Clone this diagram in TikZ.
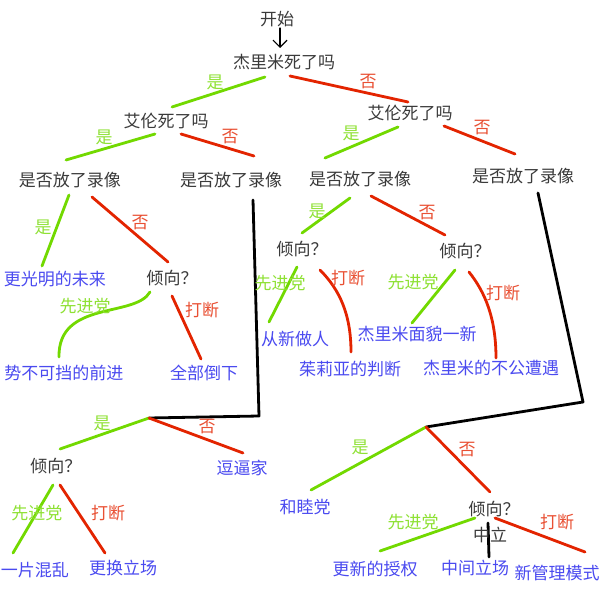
\documentclass[tikz,border=0pt]{standalone}
\usepackage{fontspec}
\usepackage{xcolor}
\usepackage{tikz}
\usetikzlibrary{arrows.meta,calc}
\newfontfamily\cjk{Noto Sans CJK SC}
\definecolor{trYes}{HTML}{72D900}
\definecolor{trNo}{HTML}{E32400}
\definecolor{trInk}{HTML}{3A3A3A}
\definecolor{trEnd}{HTML}{4A4AF0}
\tikzset{
  tr diagram/.style={x=1pt, y=-1pt, font=\cjk\fontsize{17}{19}\selectfont,
    text=trInk, line cap=round, line join=round},
  tr ask/.style={inner sep=1pt, text=trInk},
  tr end/.style={inner sep=1pt, text=trEnd},
  tr yes/.style={draw=trYes, line width=2.8pt},
  tr no/.style={draw=trNo, line width=2.8pt},
  tr skip/.style={draw=black, line width=2.8pt},
  tr yes label/.style={inner sep=0pt, text=trYes!80!white},
  tr no label/.style={inner sep=0pt, text=trNo!80!white},
  tr mid label/.style={inner sep=0pt, text=trInk},
  tr arrow/.style={-{Straight Barb[length=7pt,width=14pt]}, draw=black, line width=1.2pt}
}

\begin{document}
\begin{tikzpicture}[tr diagram]
\useasboundingbox[fill=white] (0,0) rectangle (600,599);
% questions
\node[tr ask] (start) at (277,19) {开始};
\node[tr ask] (jerry) at (284,62) {杰里米死了吗};
\node[tr ask] (alanL) at (166,121) {艾伦死了吗};
\node[tr ask] (alanR) at (410,113) {艾伦死了吗};
\node[tr ask] (tapeA) at (70,180) {是否放了录像};
\node[tr ask] (tapeB) at (231,180) {是否放了录像};
\node[tr ask] (tapeC) at (360,179) {是否放了录像};
\node[tr ask] (tapeD) at (523,176) {是否放了录像};
\node[tr ask] (leanA) at (172,278) {倾向？};
\node[tr ask] (leanB) at (302,249) {倾向？};
\node[tr ask] (leanC) at (465,251) {倾向？};
\node[tr ask] (leanD) at (56,466) {倾向？};
\node[tr ask] (leanE) at (494,509) {倾向？};
\coordinate (forkB) at (149,418);
\coordinate (forkD) at (426,427);
% endings
\node[tr end] (brighter) at (55,279) {更光明的未来};
\node[tr end] (unstop) at (64,373) {势不可挡的前进};
\node[tr end] (allfall) at (204,373) {全部倒下};
\node[tr end] (reborn) at (295,339) {从新做人};
\node[tr end] (juliet) at (350,369) {茱莉亚的判断};
\node[tr end] (newlook) at (417,334) {杰里米面貌一新};
\node[tr end] (unfair) at (491,368) {杰里米的不公遭遇};
\node[tr end] (funny) at (242,468) {逗逼家};
\node[tr end] (chaos) at (35,570) {一片混乱};
\node[tr end] (switch) at (123,568) {更换立场};
\node[tr end] (peace) at (305,507) {和睦党};
\node[tr end] (mandate) at (375,569) {更新的授权};
\node[tr end] (middle) at (475,568) {中间立场};
\node[tr end] (newmgmt) at (557,573) {新管理模式};
% connectors
\draw[tr arrow] ($(start)+(3,9)$) -- ($(jerry)+(-4,-14)$);
\draw[tr yes] ($(jerry)+(-19,15)$) -- ($(alanL)+(6,-14)$);
\draw[tr no] ($(jerry)+(6,14)$) -- ($(alanR)+(-2,-11)$);
\draw[tr yes] ($(alanL)+(-11,13)$) -- ($(tapeA)+(-4,-20)$);
\draw[tr no] ($(alanL)+(15,13)$) -- ($(tapeB)+(23,-24)$);
\draw[tr yes] ($(alanR)+(-12,14)$) -- ($(tapeC)+(-35,-21)$);
\draw[tr no] ($(alanR)+(34,13)$) -- ($(tapeD)+(-8,-22)$);
\draw[tr yes] ($(tapeA)+(-1,15)$) -- ($(brighter)+(-13,-13)$);
\draw[tr no] ($(tapeA)+(22,17)$) -- ($(leanA)+(-4,-16)$);
\draw[tr yes] ($(leanA)+(-22,14)$) .. controls (135,318) and (58,300) .. ($(unstop)+(-5,-16)$);
\draw[tr no] ($(leanA)+(0,18)$) -- ($(allfall)+(-3,-14)$);
\draw[tr skip] ($(tapeB)+(22,20)$) -- ($(forkB)+(110,-2)$) -- (forkB);
\draw[tr yes] (forkB) -- ($(leanD)+(4,-17)$);
\draw[tr no] (forkB) -- ($(funny)+(1,-15)$);
\draw[tr yes] ($(leanD)+(-3,19)$) -- ($(chaos)+(-22,-17)$);
\draw[tr no] ($(leanD)+(4,19)$) -- ($(switch)+(-18,-15)$);
\draw[tr yes] ($(tapeC)+(-10,19)$) -- ($(leanB)+(0,-16)$);
\draw[tr no] ($(tapeC)+(11,17)$) -- ($(leanC)+(-20,-16)$);
\draw[tr yes] ($(leanB)+(-5,18)$) -- ($(reborn)+(-26,-17)$);
\draw[tr no] ($(leanB)+(18,21)$) .. controls (340,290) and (351,315) .. ($(juliet)+(1,-17)$);
\draw[tr yes] ($(leanC)+(-10,19)$) -- ($(newlook)+(-5,-11)$);
\draw[tr no] ($(leanC)+(4,21)$) .. controls (485,292) and (496,318) .. ($(unfair)+(5,-10)$);
\draw[tr skip] ($(tapeD)+(15,17)$) -- ($(forkD)+(157,-25)$) -- (forkD);
\draw[tr yes] (forkD) -- ($(peace)+(6,-17)$);
\draw[tr no] (forkD) -- ($(leanE)+(-4,-17)$);
\draw[tr yes] ($(leanE)+(-19,9)$) -- ($(mandate)+(5,-18)$);
\draw[tr skip] ($(leanE)+(-6,14)$) -- ($(middle)+(14,-11)$);
\draw[tr no] ($(leanE)+(1,9)$) -- ($(newmgmt)+(28,-21)$);
% branch labels
\node[tr yes label] (y1) at (215,82) {是};
\node[tr no label] (n1) at (368,82) {否};
\node[tr yes label] (y2) at (104,137) {是};
\node[tr no label] (n2) at (230,137) {否};
\node[tr yes label] (y3) at (351,133) {是};
\node[tr no label] (n3) at (482,128) {否};
\node[tr yes label] (y4) at (43,227) {是};
\node[tr no label] (n4) at (140,223) {否};
\node[tr yes label] (y5) at (85,306) {先进党};
\node[tr no label] (n5) at (202,310) {打断};
\node[tr yes label] (y6) at (317,211) {是};
\node[tr no label] (n6) at (427,213) {否};
\node[tr yes label] (y7) at (280,283) {先进党};
\node[tr no label] (n7) at (348,278) {打断};
\node[tr yes label] (y8) at (413,282) {先进党};
\node[tr no label] (n8) at (503,293) {打断};
\node[tr yes label] (y9) at (102,423) {是};
\node[tr no label] (n9) at (207,427) {否};
\node[tr yes label] (y10) at (37,513) {先进党};
\node[tr no label] (n10) at (108,513) {打断};
\node[tr yes label] (y11) at (360,447) {是};
\node[tr no label] (n11) at (467,450) {否};
\node[tr yes label] (y12) at (413,522) {先进党};
\node[tr mid label] (m12) at (490,535) {中立};
\node[tr no label] (n12) at (557,522) {打断};
\end{tikzpicture}
\end{document}
